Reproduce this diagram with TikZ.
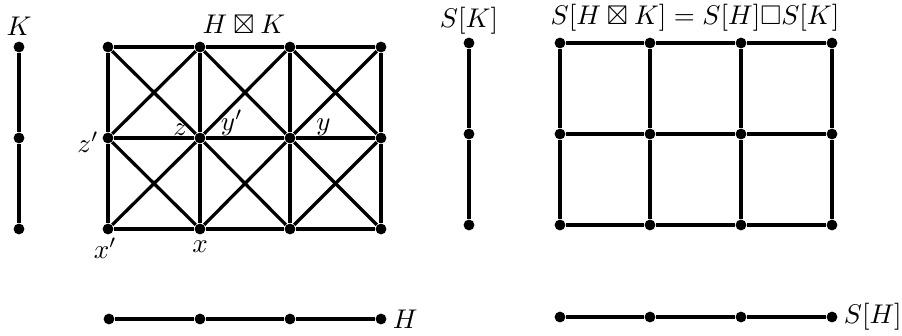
\documentclass[tikz,border=0pt]{standalone}
\usepackage{amsmath,amssymb}
\usetikzlibrary{positioning}

\begin{document}
\begin{tikzpicture}[
  x=0.37pt, y=-0.37pt,
  vtx/.style={circle, fill, inner sep=0pt, minimum size=4pt},
  edge/.style={line width=1.2pt},
  lbl/.style={inner sep=1pt}
]
\useasboundingbox (0,0) rectangle (902,335);

% the factor K
\foreach \j/\y in {1/47,2/138,3/229}
  \node[vtx] (k\j) at (19,\y) {};
\node[lbl, above=1pt of k1] (klbl) {$K$};
\draw[edge] (k1) -- (k2) -- (k3);

% strong product H x K
\foreach \i/\x in {1/108,2/200,3/290,4/381}
  \foreach \j/\y in {1/47,2/138,3/229}
    \node[vtx] (p\i\j) at (\x,\y) {};
\foreach \j in {1,2,3}
  \draw[edge] (p1\j) -- (p2\j) -- (p3\j) -- (p4\j);
\foreach \i in {1,...,4}
  \draw[edge] (p\i1) -- (p\i2) -- (p\i3);
\foreach \i/\ii in {1/2,2/3,3/4}
  \foreach \j/\jj in {1/2,2/3} {
    \draw[edge] (p\i\j) -- (p\ii\jj);
    \draw[edge] (p\ii\j) -- (p\i\jj);
  }
\node at (244,24) (hklbl) {$H\boxtimes K$};
\node[lbl, left=0pt of p12, yshift=-1.5pt] (zp) {$z'$};
\node[lbl, above left=-2pt and 2pt of p22] (z) {$z$};
\node[lbl, above right=-2pt and 5pt of p22] (yp) {$y'$};
\node[lbl, above right=-2pt and 7pt of p32] (y) {$y$};
\node[lbl, below=0pt of p13, xshift=-1pt] (xp) {$x'$};
\node[lbl, below=1pt of p23] (x) {$x$};

% the factor H
\foreach \i/\x in {1/109,2/200,3/290,4/381}
  \node[vtx] (h\i) at (\x,319) {};
\draw[edge] (h1) -- (h2) -- (h3) -- (h4);
\node[lbl, right=1pt of h4] (hlbl) {$H$};

% S[K]
\foreach \j/\y in {1/43,2/134,3/225}
  \node[vtx] (sk\j) at (469,\y) {};
\draw[edge] (sk1) -- (sk2) -- (sk3);
\node[lbl, above=0pt of sk1] (sklbl) {$S[K]$};

% S[H] box S[K]
\foreach \i/\x in {1/560,2/650,3/741,4/832}
  \foreach \j/\y in {1/43,2/134,3/225}
    \node[vtx] (q\i\j) at (\x,\y) {};
\foreach \j in {1,2,3}
  \draw[edge] (q1\j) -- (q2\j) -- (q3\j) -- (q4\j);
\foreach \i in {1,...,4}
  \draw[edge] (q\i1) -- (q\i2) -- (q\i3);
\node at (695,18) (shklbl) {$S[H\boxtimes K]=S[H]\square S[K]$};

% S[H]
\foreach \i/\x in {1/560,2/650,3/741,4/832}
  \node[vtx] (sh\i) at (\x,317) {};
\draw[edge] (sh1) -- (sh2) -- (sh3) -- (sh4);
\node[lbl, right=1pt of sh4] (shlbl) {$S[H]$};
\end{tikzpicture}
\end{document}
